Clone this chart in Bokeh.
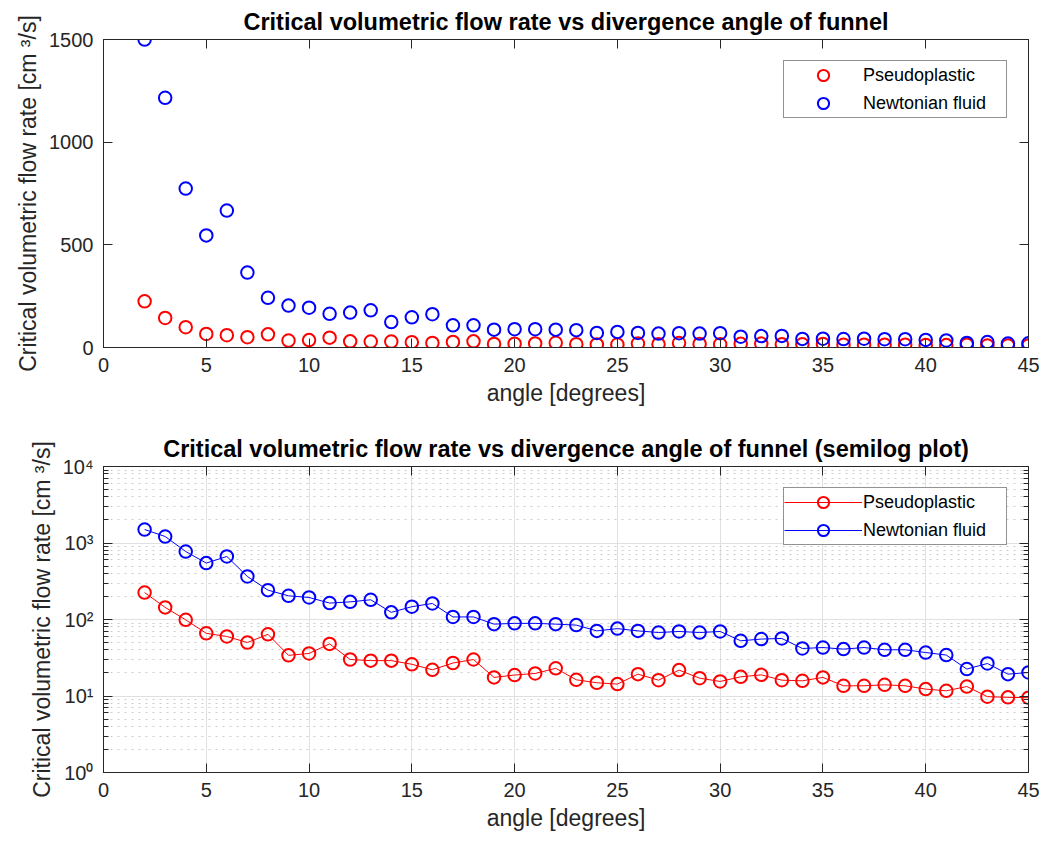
from bokeh.plotting import figure
from bokeh.layouts import column
from bokeh.models import (FixedTicker, LinearAxis, LogAxis, Legend, LegendItem,
                          Range1d, CustomJSTickFormatter)
from bokeh.embed import file_html
from bokeh.resources import INLINE

# ---------------- data ----------------
angle = list(range(2, 46))
pseudoplastic = [225, 144, 99, 66, 60, 50, 64, 34, 36, 48, 30, 29, 29, 26, 22, 27, 30,
                 17.5, 18.8, 19.7, 23, 16.3, 14.9, 14.3, 19.3, 16.1, 21.8, 17.1, 15.5,
                 17.8, 18.9, 16.1, 15.8, 17.5, 13.6, 13.6, 14.0, 13.6, 12.3, 11.7, 13.3,
                 9.8, 9.6, 9.5]
newtonian = [1500, 1216, 774, 546, 667, 365, 242, 204, 194, 164, 170, 181, 124, 147,
             162, 108, 108, 87, 89, 89, 87, 84.5, 71, 76, 71, 67.6, 69.7, 67.6, 69.7,
             52.7, 55.5, 56.5, 41.8, 43, 41, 43, 40.2, 40.2, 37, 34.3, 22.5, 26.6,
             19.3, 20.3]
series_names = ["Pseudoplastic", "Newtonian fluid"]
series_colors = ["#ff0000", "#0000ff"]

x_ticks = [0, 5, 10, 15, 20, 25, 30, 35, 40, 45]
y_ticks_linear = [0, 500, 1000, 1500]
y_ticks_log = [1, 10, 100, 1000, 10000]
y_log_labels = ["10\u2070", "10\u00b9", "10\u00b2", "10\u00b3", "10\u2074"]
y_log_minor = [m * 10 ** k for k in range(4) for m in range(2, 10)]

title_top = "Critical volumetric flow rate vs divergence angle of funnel"
title_bottom = "Critical volumetric flow rate vs divergence angle of funnel (semilog plot)"
x_label = "angle [degrees]"
y_label = "Critical volumetric flow rate [cm \u00b3/s]"

FONT = "Liberation Sans"
TXT = "#262626"
GRID = "#e0e0e0"


def style_axis(ax, ticker, blank=False):
    ax.ticker = ticker
    ax.axis_line_color = TXT
    ax.axis_line_width = 1
    ax.major_tick_line_color = TXT
    ax.minor_tick_line_color = TXT
    ax.major_tick_in = 9
    ax.major_tick_out = 0
    ax.minor_tick_in = 5
    ax.minor_tick_out = 0
    ax.major_label_text_font = FONT
    ax.major_label_text_font_size = "20px"
    ax.major_label_text_color = TXT
    ax.major_label_standoff = 10
    ax.axis_label_text_font = FONT
    ax.axis_label_text_font_size = "23px"
    ax.axis_label_text_font_style = "normal"
    ax.axis_label_text_color = TXT
    ax.axis_label_standoff = 5
    if blank:
        ax.formatter = CustomJSTickFormatter(code="return ''")
        ax.major_label_text_font_size = "1px"
        ax.major_label_standoff = 0


def make_fig(title, height, top, bottom, ylog):
    kw = dict(width=1046, height=height, output_backend="svg", toolbar_location=None,
              x_range=Range1d(0, 45), min_border_left=103, min_border_right=18,
              min_border_top=top, min_border_bottom=bottom,
              x_axis_label=x_label, y_axis_label=y_label, title=title)
    if ylog:
        kw["y_axis_type"] = "log"
        kw["y_range"] = Range1d(1, 10000)
    else:
        kw["y_range"] = Range1d(0, 1500)
    p = figure(**kw)
    p.title.align = "center"
    p.title.text_font = FONT
    p.title.text_font_size = "23.5px"
    p.title.text_font_style = "bold"
    p.title.text_color = "black"
    p.title.standoff = 9
    p.outline_line_color = TXT
    p.background_fill_color = "white"
    p.border_fill_color = "white"
    return p


def add_legend(p, items):
    lg = Legend(items=items, location="top_right")
    lg.label_text_font = FONT
    lg.label_text_font_size = "18px"
    lg.label_text_color = "black"
    lg.border_line_color = TXT
    lg.border_line_width = 1
    lg.background_fill_color = "white"
    lg.background_fill_alpha = 1
    lg.padding = 0
    lg.spacing = 0
    lg.glyph_width = 78
    lg.glyph_height = 28
    lg.label_height = 28
    lg.label_standoff = 1
    lg.label_width = 143
    lg.margin = 21
    p.add_layout(lg)


# ---------------- top (linear) ----------------
p1 = make_fig(title_top, 421, 39, 74, False)
style_axis(p1.xaxis[0], FixedTicker(ticks=x_ticks))
style_axis(p1.yaxis[0], FixedTicker(ticks=y_ticks_linear))
ax_top = LinearAxis()
style_axis(ax_top, FixedTicker(ticks=x_ticks), blank=True)
p1.add_layout(ax_top, "above")
ax_right = LinearAxis()
style_axis(ax_right, FixedTicker(ticks=y_ticks_linear), blank=True)
p1.add_layout(ax_right, "right")
p1.xgrid.visible = False
p1.ygrid.visible = False

items1 = []
for name, col, vals in zip(series_names, series_colors, [pseudoplastic, newtonian]):
    r = p1.scatter(angle, vals, marker="circle", size=12.5, line_color=col,
                   line_width=2, fill_color=None)
    items1.append(LegendItem(label=name, renderers=[r]))
add_legend(p1, items1)

# ---------------- bottom (semilog) ----------------
p2 = make_fig(title_bottom, 420, 45, 69, True)
style_axis(p2.xaxis[0], FixedTicker(ticks=x_ticks))
style_axis(p2.yaxis[0], FixedTicker(ticks=y_ticks_log, minor_ticks=y_log_minor))
p2.yaxis[0].major_label_overrides = {t: lab for t, lab in zip(y_ticks_log, y_log_labels)}
ax_top2 = LinearAxis()
style_axis(ax_top2, FixedTicker(ticks=x_ticks), blank=True)
p2.add_layout(ax_top2, "above")
ax_right2 = LogAxis()
style_axis(ax_right2, FixedTicker(ticks=y_ticks_log, minor_ticks=y_log_minor), blank=True)
p2.add_layout(ax_right2, "right")

p2.xgrid.grid_line_color = GRID
p2.xgrid.grid_line_width = 1
p2.ygrid.grid_line_color = GRID
p2.ygrid.grid_line_width = 1
p2.ygrid.minor_grid_line_color = "#cdcdcd"
p2.ygrid.minor_grid_line_dash = "2 5"
p2.ygrid.minor_grid_line_width = 1

items2 = []
for name, col, vals in zip(series_names, series_colors, [pseudoplastic, newtonian]):
    rl = p2.line(angle, vals, line_color=col, line_width=1)
    rs = p2.scatter(angle, vals, marker="circle", size=12.5, line_color=col,
                    line_width=2, fill_color=None)
    items2.append(LegendItem(label=name, renderers=[rl, rs]))
add_legend(p2, items2)

layout = column(p1, p2, spacing=0)
open("out.html", "w").write(file_html(layout, INLINE))
